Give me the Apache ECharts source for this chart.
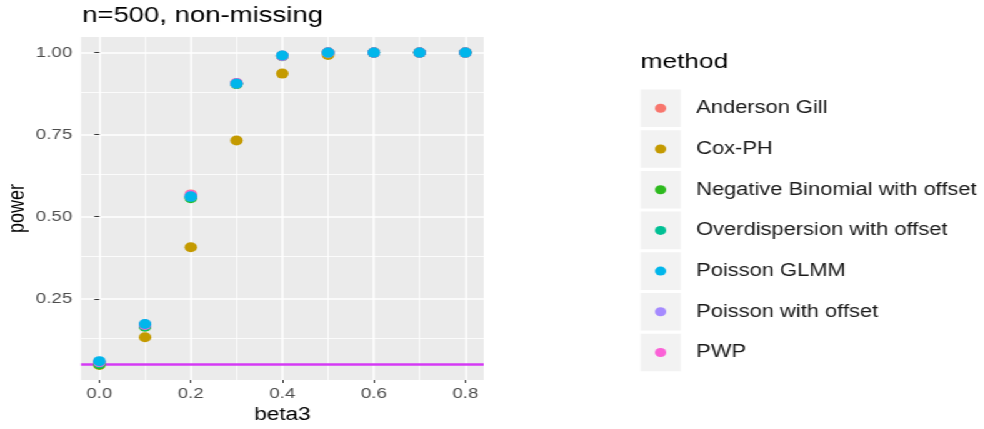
<!DOCTYPE html>
<html>
<head>
<meta charset="utf-8">
<script src="https://cdn.jsdelivr.net/npm/echarts@6/dist/echarts.min.js"></script>
<style>
  html, body { margin: 0; padding: 0; background: #fff; overflow: hidden; }
  #wrap { width: 984px; height: 429px; overflow: hidden; }
  #chart { width: 787.2px; height: 429px; transform: scaleX(1.25); transform-origin: 0 0; }
</style>
</head>
<body>
<div id="wrap"><div id="chart"></div></div>
<script>
// ---- data ----
const beta3 = [0, 0.1, 0.2, 0.3, 0.4, 0.5, 0.6, 0.7, 0.8];
const methods = ['Anderson Gill', 'Cox-PH', 'Negative Binomial with offset', 'Overdispersion with offset', 'Poisson GLMM', 'Poisson with offset', 'PWP'];
const andersonGill   = [0.057, 0.170, 0.568, 0.907, 0.990, 1.000, 1.000, 1.000, 1.000];
const coxPH          = [0.048, 0.133, 0.407, 0.732, 0.936, 0.993, 1.000, 1.000, 1.000];
const negBinomial    = [0.050, 0.165, 0.556, 0.904, 0.989, 1.000, 1.000, 1.000, 1.000];
const overdispersion = [0.054, 0.167, 0.559, 0.905, 0.990, 1.000, 1.000, 1.000, 1.000];
const poissonGLMM    = [0.060, 0.173, 0.562, 0.906, 0.991, 1.000, 1.000, 1.000, 1.000];
const poissonOffset  = [0.058, 0.172, 0.562, 0.906, 0.990, 1.000, 1.000, 1.000, 1.000];
const pwp            = [0.057, 0.170, 0.566, 0.907, 0.990, 1.000, 1.000, 1.000, 1.000];
const nominalLevel = 0.05;
const xTicks = [0, 0.2, 0.4, 0.6, 0.8];
const xMinor = [0.1, 0.3, 0.5, 0.7];
const yTicks = [0.25, 0.5, 0.75, 1.0];
const yMinor = [0.125, 0.375, 0.625, 0.875];

// ---- styles ----
const FONT = 'Liberation Sans';
const colors = {
  'Anderson Gill': '#F8766D',
  'Cox-PH': '#C49A00',
  'Negative Binomial with offset': '#2DBA1E',
  'Overdispersion with offset': '#00C094',
  'Poisson GLMM': '#00B6EB',
  'Poisson with offset': '#A58AFF',
  'PWP': '#FB61D7'
};
const seriesValues = {
  'Anderson Gill': andersonGill,
  'Cox-PH': coxPH,
  'Negative Binomial with offset': negBinomial,
  'Overdispersion with offset': overdispersion,
  'Poisson GLMM': poissonGLMM,
  'Poisson with offset': poissonOffset,
  'PWP': pwp
};
const drawOrder = ['Anderson Gill', 'Cox-PH', 'Negative Binomial with offset', 'Overdispersion with offset', 'Poisson with offset', 'PWP', 'Poisson GLMM'];

const pointSeries = drawOrder.map(name => ({
  name: name,
  type: 'scatter',
  symbol: 'circle',
  symbolSize: 10,
  itemStyle: { color: colors[name], opacity: 1, borderWidth: 0 },
  zlevel: 1,
  z: 3,
  data: beta3.map((b, i) => [b, seriesValues[name][i]])
}));

const minorGrid = {
  type: 'line', data: [], z: 1, silent: true,
  markLine: {
    silent: true, symbol: ['none', 'none'], label: { show: false },
    animation: false,
    lineStyle: { color: '#ffffff', width: 0.8, type: 'solid' },
    data: yMinor.map(v => ({ yAxis: v })).concat(xMinor.map(v => ({ xAxis: v })))
  }
};
const refLine = {
  type: 'line', data: [], zlevel: 1, z: 4, silent: true,
  markLine: {
    silent: true, symbol: ['none', 'none'], label: { show: false },
    animation: false,
    lineStyle: { color: '#D43AF4', width: 2.5, type: 'solid' },
    data: [{ yAxis: nominalLevel }]
  }
};

// legend key boxes
const legendTop = 98.3, rowStep = 40.7;
const keyBoxes = methods.map((m, i) => ({
  type: 'rect', z: 0, silent: true,
  shape: { x: 512.6, y: legendTop + 10 - 18.8 + i * rowStep, width: 32, height: 37.6 },
  style: { fill: '#F2F2F2' }
}));

const chart = echarts.init(document.getElementById('chart'), null, { renderer: 'canvas' });
chart.setOption({
  animation: false,
  backgroundColor: '#ffffff',
  textStyle: { fontFamily: FONT },
  title: [
    { text: 'n=500, non-missing', left: 65.8, top: 5, padding: 0,
      textStyle: { fontSize: 22, fontWeight: 'normal', color: '#000', fontFamily: FONT } },
    { text: 'method', left: 512.6, top: 52, padding: 0,
      textStyle: { fontSize: 21, fontWeight: 'normal', color: '#000', fontFamily: FONT } }
  ],
  graphic: keyBoxes,
  legend: {
    data: methods,
    orient: 'vertical',
    left: 524, top: legendTop,
    padding: 0,
    icon: 'circle',
    itemWidth: 9, itemHeight: 9, itemGap: rowStep - 20,
    selectedMode: false,
    z: 5,
    textStyle: { fontSize: 17.5, color: '#1a1a1a', lineHeight: 20, fontFamily: FONT, padding: [0, 0, 0, 19] }
  },
  grid: {
    left: 64.8, right: 400, top: 37, bottom: 49,
    show: true, backgroundColor: '#EBEBEB', borderWidth: 0
  },
  xAxis: {
    type: 'value', min: -0.04, max: 0.84,
    name: 'beta3', nameLocation: 'middle', nameGap: 25,
    nameTextStyle: { fontSize: 18, color: '#000', fontFamily: FONT },
    axisLine: { show: false },
    axisTick: { show: true, customValues: xTicks, length: 3, lineStyle: { color: '#333', width: 1 } },
    axisLabel: { customValues: xTicks, formatter: v => v.toFixed(1), color: '#4D4D4D', fontSize: 15, margin: 6, fontFamily: FONT },
    splitLine: { show: true, lineStyle: { color: '#ffffff', width: 1.5 } }
  },
  yAxis: {
    type: 'value', min: 0.0025, max: 1.0475,
    name: 'power', nameLocation: 'middle', nameGap: 42,
    nameTextStyle: { fontSize: 18, color: '#000', fontFamily: FONT },
    axisLine: { show: false },
    axisTick: { show: true, customValues: yTicks, length: 4, lineStyle: { color: '#333', width: 1 } },
    axisLabel: { customValues: yTicks, formatter: v => v.toFixed(2), color: '#4D4D4D', fontSize: 15, margin: 7, fontFamily: FONT },
    splitLine: { show: true, lineStyle: { color: '#ffffff', width: 1.5 } }
  },
  series: [minorGrid].concat(pointSeries).concat([refLine])
});
</script>
</body>
</html>
